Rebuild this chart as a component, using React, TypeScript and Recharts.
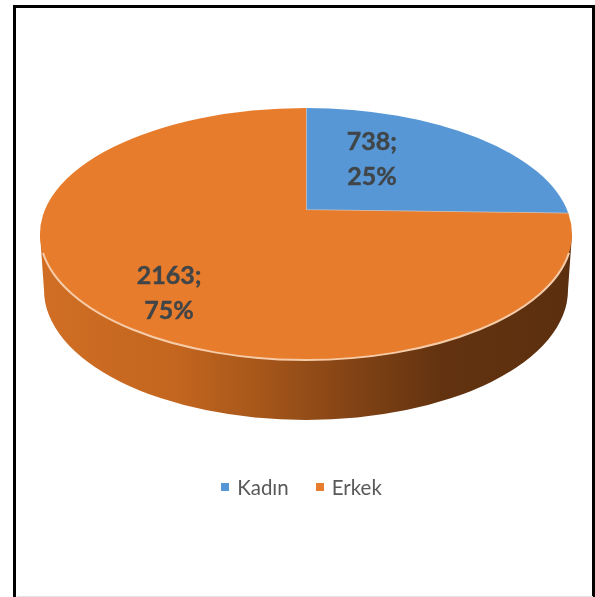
import React from 'react';
import { PieChart, Pie, Legend } from 'recharts';

const categories = ['Kadın', 'Erkek'];
const counts = [738, 2163];
const sliceColors = ['#5797d6', '#e77c2c'];

const pieData = categories.map((name, i) => ({ name, value: counts[i], fill: sliceColors[i] }));

// the disc is a perspective ellipse, the apex sits above the ellipse centre
const FLATTEN = 126 / 266;
const APEX_DROP = 24;
const WALL_DROP = 56;
const WALL_RY = 130;
const WALL_RX = 262;
const labelPull = [
  [0.346, 0.275],
  [0.718, 0.448],
];

const RAD = Math.PI / 180;

const rimPoint = (cx: number, cy: number, r: number, deg: number) => {
  const ry = r * FLATTEN;
  const v0 = APEX_DROP / ry;
  const s = Math.sin(deg * RAD);
  const c = Math.cos(deg * RAD);
  const t = -v0 * s + Math.sqrt(v0 * v0 * s * s + 1 - v0 * v0);
  return { x: cx + r * t * c, y: cy + ry * (-v0 - t * s) + APEX_DROP };
};

const DiscSlice = (props: any) => {
  const { cx, cy, outerRadius: r, startAngle, endAngle, fill, index } = props;
  const ry = r * FLATTEN;
  const a = rimPoint(cx, cy, r, startAngle);
  const b = rimPoint(cx, cy, r, endAngle);
  const large = Math.abs(startAngle - endAngle) > 180 ? 1 : 0;
  const face = `M${cx},${cy} L${a.x},${a.y} A${r},${ry} 0 ${large} 1 ${b.x},${b.y} Z`;
  const front = startAngle > -90 && endAngle < -90;
  const ey = cy + APEX_DROP;
  const rimL = rimPoint(cx, cy, r, -161);
  const rimR = rimPoint(cx, cy, r, -19);
  return (
    <g>
      {front && (
        <>
          <defs>
            <linearGradient id="wallShade" x1="0" y1="0" x2="1" y2="0">
              <stop offset="0" stopColor="#d06e24" />
              <stop offset="0.25" stopColor="#c4661f" />
              <stop offset="0.42" stopColor="#a5561a" />
              <stop offset="0.55" stopColor="#8a4716" />
              <stop offset="0.75" stopColor="#633310" />
              <stop offset="1" stopColor="#5c2f0e" />
            </linearGradient>
          </defs>
          <path
            d={`M${cx - r},${ey} L${cx - WALL_RX},${ey + WALL_DROP} A${WALL_RX},${WALL_RY} 0 0 0 ${cx + WALL_RX},${ey + WALL_DROP} L${cx + r},${ey} Z`}
            fill="url(#wallShade)"
          />
        </>
      )}
      <path d={face} fill={fill} />
      {front && (
        <path
          d={`M${rimL.x},${rimL.y} A${r},${ry} 0 0 0 ${rimR.x},${rimR.y}`}
          fill="none"
          stroke="#f6cba8"
          strokeWidth={2}
        />
      )}
      {index === 0 && (
        <path
          d={`M${a.x},${a.y} L${cx},${cy} L${b.x},${b.y}`}
          fill="none"
          stroke="#d4c4b6"
          strokeWidth={1.5}
        />
      )}
    </g>
  );
};

const SliceLabel = ({ cx, cy, midAngle, outerRadius, value, percent, index }: any) => {
  const [fx, fy] = labelPull[index];
  const x = cx + outerRadius * Math.cos(midAngle * RAD) * fx;
  const y = cy - outerRadius * Math.sin(midAngle * RAD) * fy;
  return (
    <text
      x={x}
      y={y}
      textAnchor="middle"
      fontFamily="Lato, sans-serif"
      fontWeight={700}
      fontSize={25}
      fill="#404548"
      stroke="#404548"
      strokeWidth={0.4}
    >
      <tspan x={x} dy={-9}>{value};</tspan>
      <tspan x={x} dy={35}>{Math.round(percent * 100)}%</tspan>
    </text>
  );
};

const LegendRow = ({ payload }: any) => (
  <div style={{ display: 'flex', justifyContent: 'center', alignItems: 'center', fontFamily: 'Lato, sans-serif', fontSize: 20.5, color: '#595959' }}>
    {(payload || []).map((entry: any, i: number) => (
      <span key={i} style={{ display: 'flex', alignItems: 'center', marginRight: i === 0 ? 27 : 0 }}>
        <span style={{ width: 8, height: 8, background: entry.color, marginRight: 8 }} />
        {entry.value}
      </span>
    ))}
  </div>
);

export default function App() {
  return (
    <div style={{ position: 'absolute', left: 0, top: 0, width: 595, height: 597, background: '#fff', overflow: 'hidden' }}>
      <div style={{ filter: 'blur(0.5px)' }}>
        <PieChart width={595} height={597} margin={{ top: 0, right: 0, bottom: 0, left: 0 }}>
          <Pie
            data={pieData}
            dataKey="value"
            nameKey="name"
            cx={306}
            cy={210}
            outerRadius={266}
            startAngle={90}
            endAngle={-270}
            stroke="none"
            shape={DiscSlice}
            label={SliceLabel}
            labelLine={false}
            isAnimationActive={false}
          />
          <Legend content={LegendRow} itemSorter={null} wrapperStyle={{ left: 0, top: 475, width: 603 }} />
        </PieChart>
      </div>
      <div style={{ position: 'absolute', left: 13, top: 5, width: 576, height: 600, border: '3.5px solid #000', borderBottom: 'none', pointerEvents: 'none' }} />
      <div style={{ position: 'absolute', left: 17, top: 596, width: 576, height: 1, background: '#e4e4e4' }} />
    </div>
  );
}
